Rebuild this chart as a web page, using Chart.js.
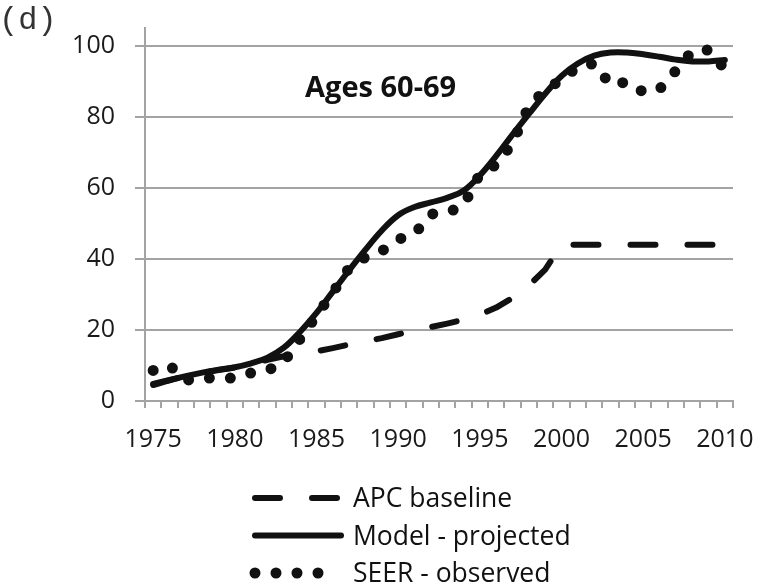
<!DOCTYPE html>
<html>
<head>
<meta charset="utf-8">
<script src="https://cdn.jsdelivr.net/npm/chart.js@4.4.1/dist/chart.umd.min.js"></script>
<style>
  html, body { margin: 0; padding: 0; background: #fff; }
  canvas { display: block; }
</style>
</head>
<body>
<canvas id="chart" width="760" height="587"></canvas>
<script>
const years = [
  1975, 1976, 1977, 1978, 1979, 1980, 1981, 1982, 1983, 1984,
  1985, 1986, 1987, 1988, 1989, 1990, 1991, 1992, 1993, 1994,
  1995, 1996, 1997, 1998, 1999, 2000, 2001, 2002, 2003, 2004,
  2005, 2006, 2007, 2008, 2009, 2010
];
const apcBaseline = [
  4.8, 5.9, 7.0, 7.9, 8.7, 9.4, 10.4, 11.6, 12.6, 13.3,
  14.0, 14.9, 15.9, 16.8, 17.7, 18.8, 19.8, 20.8, 21.8, 22.9,
  24.3, 26.3, 29.0, 32.5, 37.0, 44.0, 44.0, 44.0, 44.0, 44.0,
  44.0, 44.0, 44.0, 44.0, 44.0, 44.0
];
const modelProjected = [
  4.5, 5.8, 7.0, 8.0, 8.8, 9.5, 10.6, 12.2, 15.0, 19.5,
  24.8, 30.8, 36.8, 42.6, 48.0, 52.3, 54.6, 55.9, 57.2, 59.2,
  63.5, 69.0, 75.0, 80.8, 86.5, 91.5, 95.0, 97.2, 98.1, 98.1,
  97.6, 96.9, 96.1, 95.6, 95.6, 96.0
];
const seerObserved = [
  8.6, 10.0, 5.8, 6.6, 6.3, 6.5, 7.9, 8.6, 11.0, 17.5,
  24.0, 30.5, 37.5, 40.5, 42.2, 45.5, 47.0, 52.6, 53.0, 55.0,
  63.9, 66.5, 72.5, 83.0, 87.5, 90.5, 94.0, 95.0, 89.0, 89.8,
  87.0, 87.8, 93.0, 98.5, 98.8, 93.4
];

const INK = "#111111";
const GRID = "#a3a3a3";
const FONT = "'Open Sans', sans-serif";

// panel letter, age label and the line-sample legend under the axis
const panelText = {
  id: "panelText",
  afterDraw(chart) {
    const ctx = chart.ctx;
    ctx.save();
    ctx.textBaseline = "alphabetic";
    ctx.font = "32px 'Liberation Mono', monospace";
    ctx.fillStyle = "#333";
    ctx.fillText("(d)", -1, 29);
    ctx.fillStyle = INK;
    ctx.font = "bold 29px " + FONT;
    ctx.fillText("Ages 60-69", 305, 97);

    ctx.font = "26.5px " + FONT;
    chart.data.datasets.forEach((ds, i) => {
      const y = 498 + i * 37.5;
      ctx.beginPath();
      ctx.strokeStyle = ds.borderColor;
      ctx.lineWidth = ds.borderWidth;
      ctx.lineCap = "round";
      ctx.setLineDash(ds.borderDash || []);
      ctx.moveTo(255, y);
      ctx.lineTo(ds.borderDash && ds.borderDash[0] === 0 ? 321 : 341, y);
      ctx.stroke();
      ctx.setLineDash([]);
      ctx.fillText(ds.label, 353, y + 9);
    });
    ctx.restore();
  }
};

new Chart(document.getElementById("chart"), {
  type: "line",
  data: {
    labels: years,
    datasets: [
      {
        label: "APC baseline",
        data: apcBaseline,
        borderColor: INK,
        borderWidth: 6,
        borderDash: [25, 32],
        borderCapStyle: "round",
        borderJoinStyle: "round",
        tension: 0,
        pointRadius: 0
      },
      {
        label: "Model - projected",
        data: modelProjected,
        borderColor: INK,
        borderWidth: 6,
        borderCapStyle: "round",
        borderJoinStyle: "round",
        tension: 0.4,
        pointRadius: 0
      },
      {
        label: "SEER - observed",
        data: seerObserved,
        borderColor: INK,
        borderWidth: 11,
        borderDash: [0, 21],
        borderCapStyle: "round",
        borderJoinStyle: "round",
        tension: 0,
        pointRadius: 0
      }
    ]
  },
  options: {
    responsive: false,
    animation: false,
    layout: { padding: { left: 0, right: 27, top: 28, bottom: 126 } },
    plugins: {
      legend: { display: false },
      tooltip: { enabled: false }
    },
    scales: {
      x: {
        type: "category",
        offset: true,
        grid: { offset: true, drawOnChartArea: false, color: GRID, lineWidth: 2, tickLength: 7 },
        border: { color: GRID, width: 2 },
        ticks: {
          autoSkip: false,
          maxRotation: 0,
          padding: 17,
          color: "#1a1a1a",
          font: { family: FONT, size: 25 },
          callback: (v, i) => (years[i] % 5 === 0 ? String(years[i]) : "")
        },
        afterFit: (s) => {
          s.height = 60;
          s.paddingLeft = 0;
          s.paddingRight = 0;
        }
      },
      y: {
        min: 0,
        max: 105,
        grid: { color: GRID, lineWidth: 2, tickLength: 10 },
        border: { color: GRID, width: 2 },
        ticks: {
          stepSize: 20,
          includeBounds: false,
          padding: 20,
          color: "#1a1a1a",
          font: { family: FONT, size: 25 }
        },
        afterFit: (s) => {
          s.width = 145;
          s.paddingTop = 0;
          s.paddingBottom = 0;
        }
      }
    }
  },
  plugins: [panelText]
});
</script>
</body>
</html>
